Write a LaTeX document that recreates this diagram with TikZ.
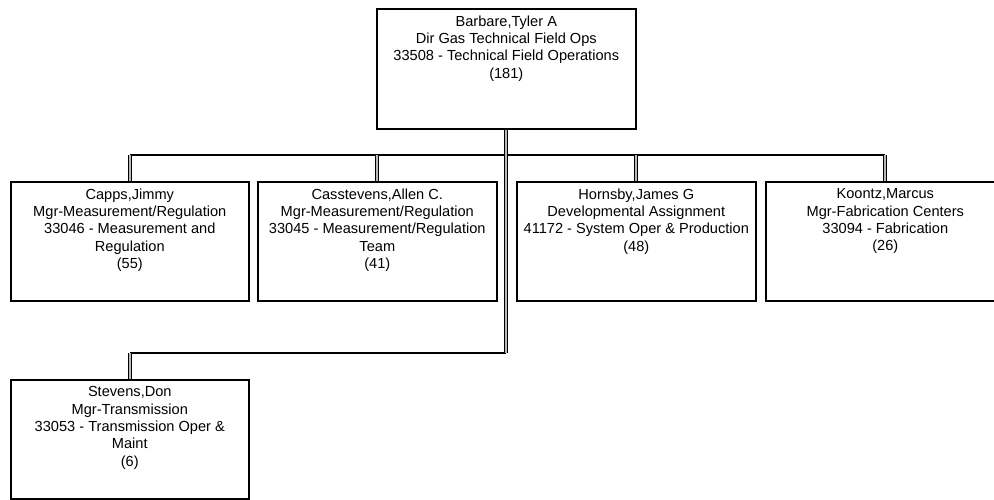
\documentclass[tikz,border=0pt]{standalone}
\usepackage{fontspec}
\setmainfont{Liberation Sans}

\tikzset{
	person/.style={draw, line width=1.6pt, inner sep=0pt, anchor=north west,
		font=\fontsize{14.6}{17.3}\selectfont},
	link/.style={line width=1pt, double=gray!55, double distance=2pt},
	bus/.style={line width=1.4pt},
}
% fixed size card, text starts at the top
\newcommand{\card}[3]{\parbox[c][#2][t]{#1}{\centering\vspace{7pt}#3}}

\begin{document}
\begin{tikzpicture}[x=1pt,y=-1pt]
	\useasboundingbox (0,0) rectangle (994,500);

	    \node[person] (tyler) at (376,8) {\card{259pt}{120pt}{Barbare,Tyler A\\
	    	Dir Gas Technical Field Ops\\
	    	33508 - Technical Field Operations\\
	    	(181)}};

	    \node[person] (capps) at (10,181) {\card{238pt}{119pt}{Capps,Jimmy\\
	    	Mgr-Measurement/Regulation\\
	    	33046 - Measurement and\\
	    	Regulation\\
	    	(55)}};
	    \node[person] (allen) at (257,181) {\card{239pt}{119pt}{Casstevens,Allen C.\\
	    	Mgr-Measurement/Regulation\\
	    	33045 - Measurement/Regulation\\
	    	Team\\
	    	(41)}};
	    \node[person] (james) at (516,181) {\card{239pt}{119pt}{Hornsby,James G\\
	    	Developmental Assignment\\
	    	41172 - System Oper \& Production\\
	    	(48)}};
	    \node[person] (marcus) at (765,181) {\card{239pt}{119pt}{Koontz,Marcus\\
	    	Mgr-Fabrication Centers\\
	    	33094 - Fabrication\\
	    	(26)}};

	    \node[person] (don) at (10,379) {\card{238pt}{119pt}{Stevens,Don\\
	    	Mgr-Transmission\\
	    	33053 - Transmission Oper \&\\
	    	Maint\\
	    	(6)}};

	    %\draw[help lines] (0,0) grid[step=50] (994,500);
	    \coordinate (bus) at (0,155);
	    \coordinate (split) at (tyler.south |- 0,353);

	    \draw[bus] (capps.north |- bus) -- (marcus.north |- bus);
	    \draw[bus] (split) -- (don.north |- split);

	    \draw[link] (tyler.south) -- (split);
	    \foreach \who in {capps,allen,james,marcus}
	        \draw[link] (\who.north |- bus) -- (\who.north);
	    \draw[link] (don.north |- split) -- (don.north);

\end{tikzpicture}
\end{document}
